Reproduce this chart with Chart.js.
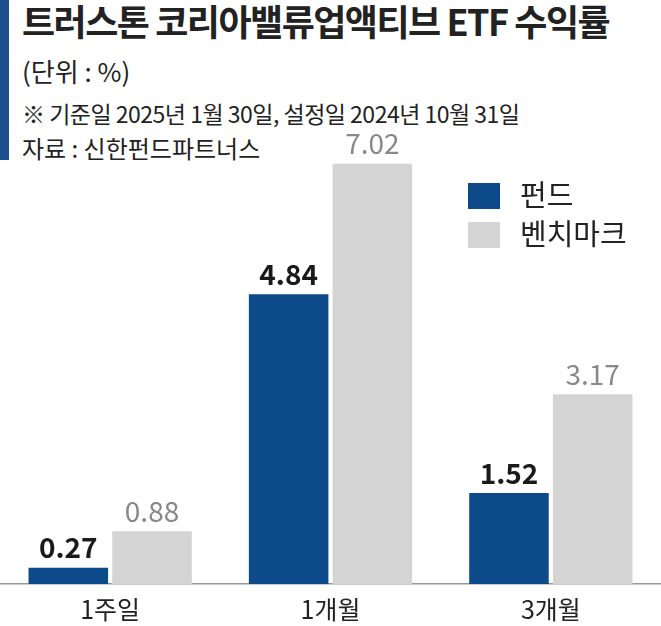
<!DOCTYPE html>
<html><head><meta charset="utf-8">
<script src="https://cdn.jsdelivr.net/npm/chart.js@4"></script>
<style>
body{margin:0;background:#fff;font-family:"Noto Sans CJK KR",sans-serif;}
#wrap{position:relative;width:661px;height:626px;}
.t{position:absolute;left:22px;white-space:nowrap;color:#222;}
#bar{position:absolute;left:0;top:0;width:9px;height:160px;background:#1d4f8f;}
.lg{position:absolute;left:468px;width:32px;height:26px;}
.lt{position:absolute;left:520px;font-size:29px;color:#222;}
canvas{position:absolute;left:0;top:0;}
</style></head><body>
<div id="wrap">
<div id="bar"></div>
<div class="t" style="top:-6px;font-size:36px;font-weight:700;letter-spacing:-1.5px">트러스톤 코리아밸류업액티브 ETF 수익률</div>
<div class="t" style="top:52px;font-size:26px">(단위 : %)</div>
<div class="t" style="top:96px;font-size:23px;letter-spacing:-0.5px">※ 기준일 2025년 1월 30일, 설정일 2024년 10월 31일</div>
<div class="t" style="top:130px;font-size:24px">자료 : 신한펀드파트너스</div>
<canvas id="c" width="661" height="626"></canvas>
<div class="lg" style="top:183px;background:#0d4a8a"></div><div class="lt" style="top:172px">펀드</div>
<div class="lg" style="top:222px;background:#d4d4d4"></div><div class="lt" style="top:211px">벤치마크</div>
</div>
<script>
const categories = ['1주일', '1개월', '3개월'];
const fund = [0.27, 4.84, 1.52];
const bench = [0.88, 7.02, 3.17];

const valueLabels = {
  id: 'valueLabels',
  afterDatasetsDraw(chart) {
    const c = chart.ctx;
    c.save();
    c.textAlign = 'center';
    c.textBaseline = 'bottom';
    chart.data.datasets.forEach((ds, i) => {
      chart.getDatasetMeta(i).data.forEach((b, j) => {
        c.font = (i === 0 ? '700 ' : '400 ') + '28px "Noto Sans CJK KR"';
        c.fillStyle = i === 0 ? '#1a1a1a' : '#888';
        c.fillText(ds.data[j].toFixed(2), b.x, b.y - 6);
      });
    });
    c.restore();
  }
};

new Chart(document.getElementById('c'), {
  type: 'bar',
  data: {
    labels: categories,
    datasets: [
      { label: '펀드', data: fund, backgroundColor: '#0d4a8a' },
      { label: '벤치마크', data: bench, backgroundColor: '#d4d4d4' }
    ]
  },
  options: {
    responsive: false,
    animation: false,
    layout: { padding: { top: 105, bottom: 0, left: 0, right: 0 } },
    categoryPercentage: 0.76,
    barPercentage: 0.95,
    plugins: { legend: { display: false }, tooltip: { enabled: false } },
    scales: {
      x: {
        grid: { display: false },
        border: { color: '#999', width: 1.5 },
        ticks: { color: '#222', padding: 2, font: { size: 25, family: 'Noto Sans CJK KR' } }
      },
      y: { display: false, min: 0, max: 8 }
    }
  },
  plugins: [valueLabels]
});
</script>
</body></html>
